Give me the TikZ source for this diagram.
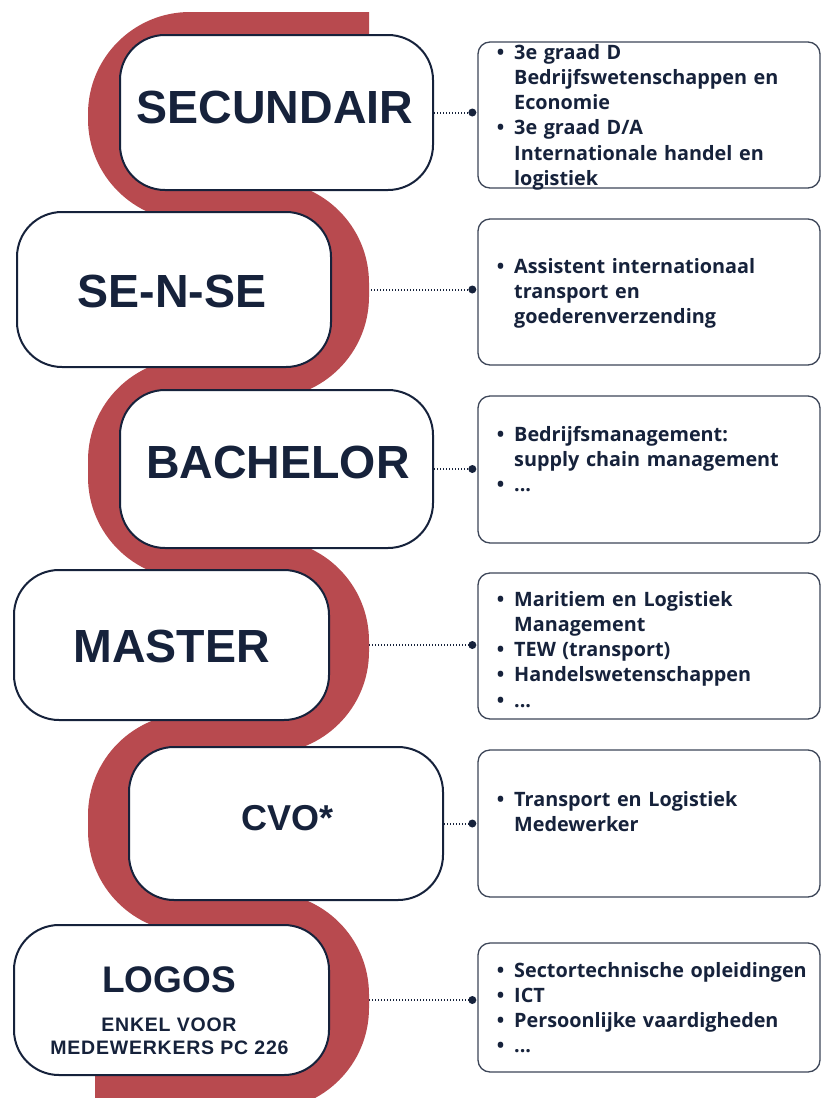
\documentclass[tikz,border=0pt]{standalone}
\usepackage{fontspec}
\setmainfont{Open Sans}
\newfontfamily\headfont{Liberation Sans}
\newfontfamily\subfont{Liberation Sans}[LetterSpace=4]
\definecolor{navy}{HTML}{16223B}
\definecolor{bandred}{HTML}{B84A4F}
\definecolor{boxgray}{HTML}{3D4658}
\pgfdeclarelayer{bg}
\pgfdeclarelayer{band}
\pgfsetlayers{bg,band,main}
\begin{document}
\begin{tikzpicture}[x=1pt,y=-1pt,
  lbox/.style={draw=navy, line width=2pt, fill=white, rounded corners=45pt, inner sep=0pt},
  rbox/.style={draw=boxgray, line width=1.3pt, fill=white, rounded corners=12pt, inner sep=0pt, minimum width=342pt},
  head/.style={anchor=base, text=navy, inner sep=0pt, font=\headfont\bfseries\fontsize{46.5}{50}\selectfont},
  items/.style={anchor=base west, text=navy, text width=310pt, align=left, inner sep=0pt, font=\bfseries\fontsize{19.8}{25.3}\selectfont},
  conn/.style={navy, line width=2pt, dash pattern=on 1.4pt off 1.6pt},
  enddot/.style={circle, fill=navy, inner sep=0pt, minimum size=8pt},
  redband/.style={draw=bandred, line width=40pt, rounded corners=82pt}
]
\useasboundingbox (0,0) rectangle (823,1098);

% left boxes
\node[lbox, minimum width=313pt, minimum height=155pt] (L1) at (276.5,112.5) {};
\node[lbox, minimum width=314pt, minimum height=155pt] (L2) at (174,289.5) {};
\node[lbox, minimum width=313pt, minimum height=158pt] (L3) at (276.5,469) {};
\node[lbox, minimum width=315pt, minimum height=150pt] (L4) at (171.5,645) {};
\node[lbox, minimum width=314pt, minimum height=153pt] (L5) at (286,823.5) {};
\node[lbox, minimum width=315pt, minimum height=150pt] (L6) at (171.5,1000) {};

% right boxes
\node[rbox, minimum height=146pt] (R1) at (649,115) {};
\node[rbox, minimum height=146pt] (R2) at (649,292) {};
\node[rbox, minimum height=147pt] (R3) at (649,469.5) {};
\node[rbox, minimum height=146pt] (R4) at (649,646) {};
\node[rbox, minimum height=147pt] (R5) at (649,823.5) {};
\node[rbox, minimum height=129pt] (R6) at (649,1007.5) {};

% dots and connectors
\foreach \i in {1,...,6}{
  \node[enddot, xshift=-5pt] (D\i) at (L\i.east -| R\i.west) {};
}
\begin{pgfonlayer}{bg}
\fill[white] (0,0) rectangle (823,1098);
\foreach \i in {1,...,6}{
  \draw[conn] (L\i.east) -- (D\i);
}
\end{pgfonlayer}

% red band
\begin{pgfonlayer}{band}
\begin{scope}
\clip (0,0) rectangle (823,1098);
\draw[redband] (369,32) -- (108,32) -- (108,201) -- (349,201) -- (349,378.5)
  -- (108,378.5) -- (108,559) -- (349,559) -- (349,733.5) -- (108,733.5)
  -- (108,912.5) -- (349,912.5) -- (349,1090) -- (95,1090);
\end{scope}
\end{pgfonlayer}

% headings
\node[head] (T1) at (275,123) {SECUNDAIR};
\node[head] (T2) at (172,307) {SE-N-SE};
\node[head] (T3) at (278,478) {BACHELOR};
\node[head] (T4) at (171.5,662) {MASTER};
\node[head, font=\headfont\bfseries\fontsize{36}{40}\selectfont] (T5) at (287.5,830) {CVO*};
\node[head, font=\headfont\bfseries\fontsize{37}{40}\selectfont] (T6) at (169,992) {LOGOS};
\node[head, font=\subfont\bfseries\fontsize{19.5}{22}\selectfont] (T7) at (169,1031) {ENKEL VOOR};
\node[head, font=\subfont\bfseries\fontsize{19.5}{22}\selectfont] (T8) at (169.5,1054) {MEDEWERKERS PC 226};

% items
\newcommand{\bul}{\leavevmode\llap{\textbullet\hspace{10pt}}}
\node[items] (I1) at (514,59) {\bul 3e graad D\\Bedrijfswetenschappen en\\Economie\\\bul 3e graad D/A\\Internationale handel en\\logistiek};
\node[items] (I2) at (514,273) {\bul Assistent internationaal\\transport en\\goederenverzending};
\node[items] (I3) at (514,441) {\bul Bedrijfsmanagement:\\supply chain management\\\bul ...};
\node[items] (I4) at (514,606) {\bul Maritiem en Logistiek\\Management\\\bul TEW (transport)\\\bul Handelswetenschappen\\\bul ...};
\node[items] (I5) at (514,806) {\bul Transport en Logistiek\\Medewerker};
\node[items] (I6) at (514,977) {\bul Sectortechnische opleidingen\\\bul ICT\\\bul Persoonlijke vaardigheden\\\bul ...};
\end{tikzpicture}
\end{document}
